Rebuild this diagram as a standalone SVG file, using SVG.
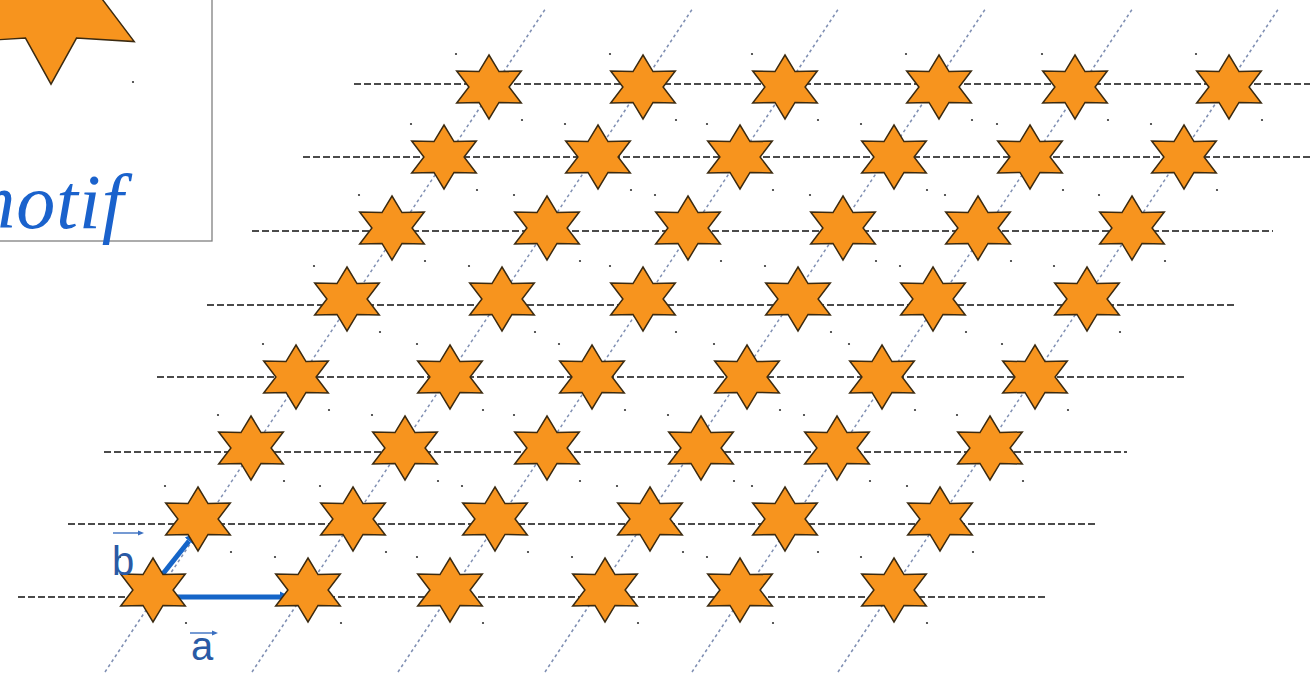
<svg xmlns="http://www.w3.org/2000/svg" xmlns:xlink="http://www.w3.org/1999/xlink" width="1310" height="676" viewBox="0 0 1310 676">
<style>
.hline{stroke:#111;stroke-width:1.3;stroke-dasharray:7 3;fill:none}
.dline{stroke:#7f8fb3;stroke-width:1.5;stroke-dasharray:3 3;fill:none}
.star{fill:#f7941e;stroke:#3b2a10;stroke-width:1.5;stroke-linejoin:miter}
.dot{fill:#333}
.vec{stroke:#1565c8;stroke-width:5;fill:none}
.ovec{stroke:#3a6fc0;stroke-width:1.4;fill:none}
.lbl{font-family:"Liberation Sans",Arial,sans-serif;font-size:40px;fill:#2a5aa5}
.motif{font-family:"Liberation Serif","Times New Roman",serif;font-style:italic;font-size:78px;letter-spacing:1px;fill:#1a62cc}
</style>
<defs>
<path id="starShape" d="M0,-32 L10,-15.4 L32.3,-16 L20.1,0 L32.3,16 L10,15.4 L0,32 L-10,15.4 L-32.3,16 L-20.1,0 L-32.3,-16 L-10,-15.4 Z"/>
<g id="star">
<use xlink:href="#starShape" href="#starShape" class="star"/>
<circle class="dot" cx="-33" cy="-33" r="1.1"/>
<circle class="dot" cx="33" cy="33" r="1.1"/>
</g>
<marker id="ah" markerUnits="userSpaceOnUse" markerWidth="12" markerHeight="12" refX="0" refY="6" orient="auto">
<path d="M0,0.5 L11,6 L0,11.5 Z" fill="#1565c8"/>
</marker>
<marker id="ahs" markerUnits="userSpaceOnUse" markerWidth="8" markerHeight="6" refX="0" refY="3" orient="auto">
<path d="M0,0.5 L6,3 L0,5.5 Z" fill="#3a6fc0"/>
</marker>
</defs>
<rect width="1310" height="676" fill="#fff"/>

<g id="motif-box">
<rect x="-2" y="-2" width="214" height="243" fill="#fff" stroke="#808080" stroke-width="1.3"/>
<g transform="translate(51,-1) scale(2.66)"><path d="M0,-32 L9.6,-14.7 L31.3,-16 L19.2,0 L31.3,16 L9.6,14.7 L0,32 L-9.6,14.7 L-31.3,16 L-19.2,0 L-31.3,-16 L-9.6,-14.7 Z" fill="#f7941e" stroke="#3b2a10" stroke-width="0.55"/></g>
<circle class="dot" cx="133" cy="82" r="1.1"/>
<text class="motif" x="-41" y="228">motif</text>
</g>

<g id="connectors">
<g id="rows">
<line class="hline" x1="18" y1="597" x2="1045" y2="597"/>
<line class="hline" x1="68" y1="524" x2="1097" y2="524"/>
<line class="hline" x1="104" y1="452" x2="1127" y2="452"/>
<line class="hline" x1="157" y1="377" x2="1185" y2="377"/>
<line class="hline" x1="207" y1="305" x2="1237" y2="305"/>
<line class="hline" x1="252" y1="231" x2="1273" y2="231"/>
<line class="hline" x1="303" y1="157" x2="1310" y2="157"/>
<line class="hline" x1="354" y1="84" x2="1310" y2="84"/>
</g>
<g id="diagonals">
<line class="dline" x1="105" y1="672" x2="546" y2="8"/>
<line class="dline" x1="252" y1="672" x2="693" y2="8"/>
<line class="dline" x1="398" y1="672" x2="839" y2="8"/>
<line class="dline" x1="545" y1="672" x2="986" y2="8"/>
<line class="dline" x1="692" y1="672" x2="1133" y2="8"/>
<line class="dline" x1="838" y1="672" x2="1279" y2="8"/>
</g>
<g id="vectors">
<line class="vec" x1="162" y1="597" x2="280" y2="597" marker-end="url(#ah)"/>
<line class="vec" x1="162" y1="575" x2="189" y2="541" marker-end="url(#ah)"/>
</g>
</g>

<g id="lattice">
<use id="s00" href="#star" xlink:href="#star" x="153" y="590"/>
<use id="s01" href="#star" xlink:href="#star" x="308" y="590"/>
<use id="s02" href="#star" xlink:href="#star" x="450" y="590"/>
<use id="s03" href="#star" xlink:href="#star" x="605" y="590"/>
<use id="s04" href="#star" xlink:href="#star" x="740" y="590"/>
<use id="s05" href="#star" xlink:href="#star" x="894" y="590"/>
<use id="s10" href="#star" xlink:href="#star" x="198" y="519"/>
<use id="s11" href="#star" xlink:href="#star" x="353" y="519"/>
<use id="s12" href="#star" xlink:href="#star" x="495" y="519"/>
<use id="s13" href="#star" xlink:href="#star" x="650" y="519"/>
<use id="s14" href="#star" xlink:href="#star" x="785" y="519"/>
<use id="s15" href="#star" xlink:href="#star" x="940" y="519"/>
<use id="s20" href="#star" xlink:href="#star" x="251" y="448"/>
<use id="s21" href="#star" xlink:href="#star" x="405" y="448"/>
<use id="s22" href="#star" xlink:href="#star" x="547" y="448"/>
<use id="s23" href="#star" xlink:href="#star" x="701" y="448"/>
<use id="s24" href="#star" xlink:href="#star" x="837" y="448"/>
<use id="s25" href="#star" xlink:href="#star" x="990" y="448"/>
<use id="s30" href="#star" xlink:href="#star" x="296" y="377"/>
<use id="s31" href="#star" xlink:href="#star" x="450" y="377"/>
<use id="s32" href="#star" xlink:href="#star" x="592" y="377"/>
<use id="s33" href="#star" xlink:href="#star" x="747" y="377"/>
<use id="s34" href="#star" xlink:href="#star" x="882" y="377"/>
<use id="s35" href="#star" xlink:href="#star" x="1035" y="377"/>
<use id="s40" href="#star" xlink:href="#star" x="347" y="299"/>
<use id="s41" href="#star" xlink:href="#star" x="502" y="299"/>
<use id="s42" href="#star" xlink:href="#star" x="643" y="299"/>
<use id="s43" href="#star" xlink:href="#star" x="798" y="299"/>
<use id="s44" href="#star" xlink:href="#star" x="933" y="299"/>
<use id="s45" href="#star" xlink:href="#star" x="1087" y="299"/>
<use id="s50" href="#star" xlink:href="#star" x="392" y="228"/>
<use id="s51" href="#star" xlink:href="#star" x="547" y="228"/>
<use id="s52" href="#star" xlink:href="#star" x="688" y="228"/>
<use id="s53" href="#star" xlink:href="#star" x="843" y="228"/>
<use id="s54" href="#star" xlink:href="#star" x="978" y="228"/>
<use id="s55" href="#star" xlink:href="#star" x="1132" y="228"/>
<use id="s60" href="#star" xlink:href="#star" x="444" y="157"/>
<use id="s61" href="#star" xlink:href="#star" x="598" y="157"/>
<use id="s62" href="#star" xlink:href="#star" x="740" y="157"/>
<use id="s63" href="#star" xlink:href="#star" x="894" y="157"/>
<use id="s64" href="#star" xlink:href="#star" x="1030" y="157"/>
<use id="s65" href="#star" xlink:href="#star" x="1184" y="157"/>
<use id="s70" href="#star" xlink:href="#star" x="489" y="87"/>
<use id="s71" href="#star" xlink:href="#star" x="643" y="87"/>
<use id="s72" href="#star" xlink:href="#star" x="785" y="87"/>
<use id="s73" href="#star" xlink:href="#star" x="939" y="87"/>
<use id="s74" href="#star" xlink:href="#star" x="1075" y="87"/>
<use id="s75" href="#star" xlink:href="#star" x="1229" y="87"/>
</g>

<g id="labels">
<g id="label-b">
<line class="ovec" x1="113" y1="533" x2="138" y2="533" marker-end="url(#ahs)"/>
<text class="lbl" x="112" y="575">b</text>
</g>
<g id="label-a">
<line class="ovec" x1="190" y1="633" x2="212" y2="633" marker-end="url(#ahs)"/>
<text class="lbl" x="191" y="660">a</text>
</g>
</g>
</svg>
